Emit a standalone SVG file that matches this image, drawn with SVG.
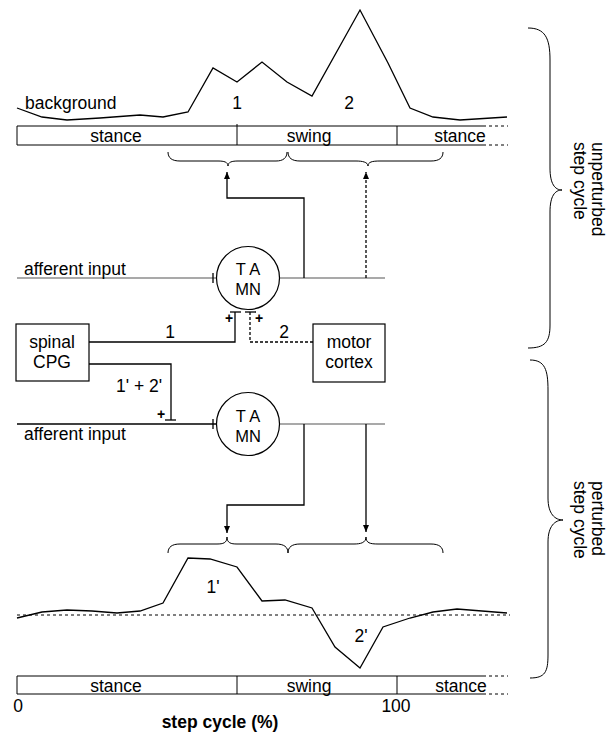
<svg xmlns="http://www.w3.org/2000/svg" width="616" height="736" viewBox="0 0 616 736">
<style>
text{font-family:"Liberation Sans",Arial,sans-serif;font-size:17.5px;fill:#000}
.m{text-anchor:middle}
.b{font-weight:bold}
.mn{font-size:16.5px}
.ln{fill:none;stroke:#000;stroke-width:1.3}
.th{fill:none;stroke:#000;stroke-width:1}
.gr{fill:none;stroke:#555;stroke-width:1.2}
.ds{fill:none;stroke:#000;stroke-width:1.3;stroke-dasharray:3 2}
.dt{fill:none;stroke:#000;stroke-width:1;stroke-dasharray:3 3}
.box{fill:#fff;stroke:#000;stroke-width:1.2}
.br{fill:none;stroke:#000;stroke-width:1}
.pl{font-size:14px;font-weight:bold}
</style>
<defs>
<marker id="ah" markerUnits="userSpaceOnUse" markerWidth="8" markerHeight="8" refX="7" refY="3" orient="auto">
<path d="M0,0 L7,3 L0,6 z" fill="#000"/>
</marker>
</defs>

<g id="top-trace">
<polyline class="ln" points="17,108 42,117 67,120 100,118 140,115 163,117 188,112 213,68 237,82 262,62 287,82 312,96 360,10 388,63 410,108 433,117 460,120 507,117"/>
<text x="25" y="109">background</text>
<text class="m" x="237" y="109">1</text>
<text class="m" x="349" y="109">2</text>
</g>

<g id="top-bar">
<line class="th" x1="17" y1="126" x2="483" y2="126"/>
<line class="th" x1="17" y1="145" x2="483" y2="145"/>
<line class="th" x1="17" y1="126" x2="17" y2="145"/>
<line class="th" x1="237" y1="124" x2="237" y2="145"/>
<line class="th" x1="397" y1="126" x2="397" y2="145"/>
<line class="dt" x1="483" y1="126" x2="508" y2="126"/>
<line class="dt" x1="483" y1="145" x2="508" y2="145"/>
<text class="m" x="116" y="142">stance</text>
<text class="m" x="309" y="142">swing</text>
<text class="m" x="460" y="142">stance</text>
</g>

<g id="top-braces">
<path class="br" d="M168,152 C168,158 172,161 180,161 L218,161 C224,161 228,162 228,166 C228,162 232,161 238,161 L276,161 C283,161 287,158 287,152"/>
<path class="br" d="M288,152 C288,158 292,161 300,161 L356,161 C362,161 368,162 368,166 C368,162 372,161 380,161 L431,161 C439,161 443,158 443,152"/>
</g>

<g id="ta-mn-1">
<circle class="box" cx="248" cy="278" r="31.5"/>
<text class="m mn" x="248" y="275">T A</text>
<text class="m mn" x="248" y="295">MN</text>
</g>

<g id="ta-mn-2">
<circle class="box" cx="248" cy="424" r="31.5"/>
<text class="m mn" x="248" y="422">T A</text>
<text class="m mn" x="248" y="442">MN</text>
</g>

<g id="spinal-cpg">
<rect class="box" x="16" y="324" width="73" height="57"/>
<text class="m" x="52" y="348">spinal</text>
<text class="m" x="52" y="368">CPG</text>
</g>

<g id="motor-cortex">
<rect class="box" x="313" y="324" width="72" height="58"/>
<text class="m" x="349" y="348">motor</text>
<text class="m" x="349" y="368">cortex</text>
</g>

<g id="connectors">
<line class="gr" x1="17" y1="278" x2="216" y2="278"/>
<line class="ln" x1="213" y1="273" x2="213" y2="283"/>
<text x="24" y="275">afferent input</text>
<line class="gr" x1="280" y1="278" x2="385" y2="278"/>
<polyline class="ln" points="304,278 304,198 227,198 227,172" marker-end="url(#ah)"/>
<line class="ds" x1="366" y1="278" x2="366" y2="172" marker-end="url(#ah)"/>

<polyline class="ln" points="89,342 235,342 235,312"/>
<line class="ln" x1="230" y1="312" x2="241" y2="312"/>
<text class="m pl" x="229" y="323">+</text>
<text class="m" x="170" y="338">1</text>
<polyline class="ds" points="313,342 250,342 250,312"/>
<line class="ln" x1="245" y1="312" x2="256" y2="312"/>
<text class="m pl" x="259" y="323">+</text>
<text class="m" x="284" y="338">2</text>

<polyline class="ln" points="89,364 171,364 171,420"/>
<line class="ln" x1="165" y1="420" x2="176" y2="420"/>
<text class="m pl" x="161" y="419">+</text>
<text x="116" y="392">1' + 2'</text>

<line class="ln" x1="17" y1="424" x2="216" y2="424"/>
<line class="ln" x1="213" y1="419" x2="213" y2="429"/>
<text x="24" y="440">afferent input</text>
<line class="gr" x1="280" y1="424" x2="385" y2="424"/>
<polyline class="ln" points="304,424 304,505 227,505 227,533" marker-end="url(#ah)"/>
<line class="ln" x1="366" y1="424" x2="366" y2="532" marker-end="url(#ah)"/>
</g>

<g id="bottom-braces">
<path class="br" d="M168,553 C168,547 172,544 180,544 L217,544 C223,544 227,543 227,537 C227,543 231,544 237,544 L276,544 C284,544 288,547 288,553"/>
<path class="br" d="M288,553 C288,547 292,544 300,544 L354,544 C360,544 366,543 366,537 C366,543 370,544 378,544 L431,544 C439,544 443,547 443,553"/>
</g>

<g id="bottom-trace">
<line class="dt" x1="17" y1="615" x2="510" y2="615"/>
<polyline class="ln" points="17,618 42,612 67,610 92,611 117,613 140,611 163,603 188,558 210,559 237,567 262,601 285,600 312,608 335,647 360,668 383,627 410,618 433,612 457,609 507,613"/>
<text class="m" x="213" y="593">1'</text>
<text class="m" x="361" y="642">2'</text>
</g>

<g id="bottom-bar">
<line class="th" x1="17" y1="676" x2="483" y2="676"/>
<line class="th" x1="17" y1="694" x2="483" y2="694"/>
<line class="th" x1="17" y1="676" x2="17" y2="694"/>
<line class="th" x1="237" y1="676" x2="237" y2="694"/>
<line class="th" x1="397" y1="676" x2="397" y2="694"/>
<line class="dt" x1="483" y1="676" x2="508" y2="676"/>
<line class="dt" x1="483" y1="694" x2="508" y2="694"/>
<text class="m" x="116" y="692">stance</text>
<text class="m" x="309" y="692">swing</text>
<text class="m" x="461" y="692">stance</text>
<text class="m" x="18" y="712">0</text>
<text class="m" x="396" y="712">100</text>
<text class="m b" x="220" y="728">step cycle (%)</text>
</g>

<g id="unperturbed">
<path class="br" d="M528,28 C545,28 550,38 550,60 L550,168 C550,184 555,190 562,190 C555,190 550,196 550,212 L550,325 C550,342 545,348 528,348"/>
<text transform="translate(592,142) rotate(90)">unperturbed</text>
<text transform="translate(574,142) rotate(90)">step cycle</text>
</g>

<g id="perturbed">
<path class="br" d="M530,360 C545,360 548,370 548,390 L548,498 C548,514 555,520 563,520 C555,520 548,526 548,542 L548,655 C548,672 545,678 530,678"/>
<text transform="translate(592,481) rotate(90)">perturbed</text>
<text transform="translate(574,481) rotate(90)">step cycle</text>
</g>
</svg>
